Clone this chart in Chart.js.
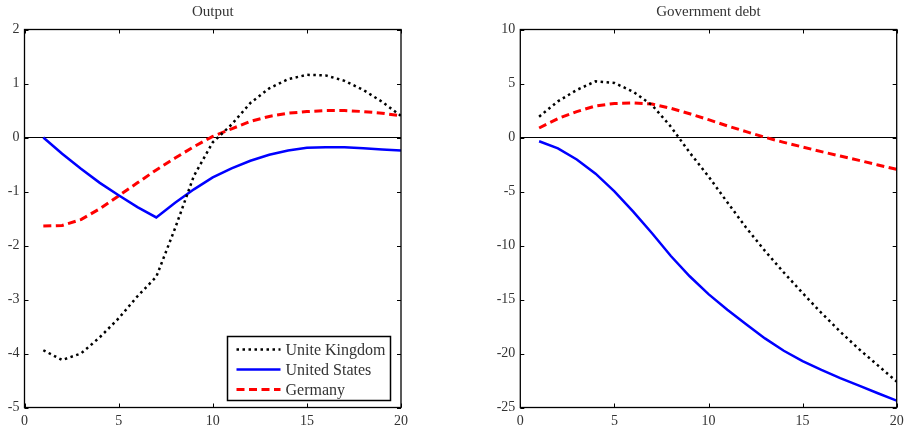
<!DOCTYPE html>
<html>
<head>
<meta charset="utf-8">
<script src="https://cdn.jsdelivr.net/npm/chart.js@4"></script>
<style>
  body { margin: 0; background: #fff; overflow: hidden; }
  .panel { position: absolute; top: 0; width: 452px; height: 432px; }
</style>
</head>
<body>
<div class="panel" style="left:0"><canvas id="outputChart" width="452" height="432"></canvas></div>
<div class="panel" style="left:452px"><canvas id="debtChart" width="452" height="432"></canvas></div>
<script>
const periods = [1, 2, 3, 4, 5, 6, 7, 8, 9, 10, 11, 12, 13, 14, 15, 16, 17, 18, 19, 20];
const seriesNames = ["Unite Kingdom", "United States", "Germany"];

// Output
const outputUK = [-3.94, -4.12, -4.0, -3.7, -3.35, -2.94, -2.58, -1.68, -0.71, -0.09,
  0.24, 0.64, 0.91, 1.08, 1.16, 1.15, 1.05, 0.88, 0.66, 0.4];
const outputUS = [0, -0.3, -0.58, -0.84, -1.07, -1.29, -1.48, -1.21, -0.96, -0.74,
  -0.57, -0.43, -0.32, -0.24, -0.19, -0.18, -0.18, -0.2, -0.22, -0.24];
const outputDE = [-1.64, -1.63, -1.52, -1.32, -1.08, -0.84, -0.6, -0.38, -0.17, 0.02,
  0.16, 0.3, 0.39, 0.45, 0.48, 0.5, 0.5, 0.48, 0.45, 0.4];

// Government debt
const debtUK = [1.93, 3.35, 4.4, 5.2, 5.05, 4.24, 3.0, 1.0, -1.4, -3.6,
  -6.0, -8.35, -10.5, -12.5, -14.4, -16.25, -17.98, -19.6, -21.1, -22.6];
const debtUS = [-0.35, -1.0, -2.03, -3.35, -4.98, -6.87, -8.87, -10.97, -12.85, -14.5,
  -15.95, -17.3, -18.6, -19.75, -20.7, -21.52, -22.28, -22.98, -23.68, -24.37];
const debtDE = [0.88, 1.75, 2.4, 2.92, 3.15, 3.2, 3.1, 2.7, 2.2, 1.65,
  1.08, 0.54, 0.02, -0.45, -0.88, -1.31, -1.72, -2.12, -2.54, -2.95];

Chart.defaults.font.family = "'Liberation Serif', serif";
Chart.defaults.font.size = 14;
Chart.defaults.color = "#333";

const styles = [
  { borderColor: "#000", borderWidth: 2.5, borderDash: [2.5, 3.5] },
  { borderColor: "#0000ff", borderWidth: 2.5, borderDash: [] },
  { borderColor: "#ff0000", borderWidth: 3, borderDash: [8, 4.5] },
];

function makeDatasets(values) {
  return values.map((vals, i) => ({
    label: seriesNames[i],
    data: periods.map((p, j) => ({ x: p, y: vals[j] })),
    borderColor: styles[i].borderColor,
    borderWidth: styles[i].borderWidth,
    borderDash: styles[i].borderDash,
    pointRadius: 0,
    tension: 0,
    fill: false,
  }));
}

// frame, inward ticks and title
const framePlugin = {
  id: "frame",
  afterDatasetsDraw(chart, args, opts) {
    const { ctx, chartArea: a, scales } = chart;
    ctx.save();
    ctx.strokeStyle = "#000";
    ctx.lineWidth = 1;
    ctx.beginPath();
    scales.x.ticks.forEach((t) => {
      const px = Math.round(scales.x.getPixelForValue(t.value)) + 0.5;
      ctx.moveTo(px, a.bottom); ctx.lineTo(px, a.bottom - 4);
      ctx.moveTo(px, a.top); ctx.lineTo(px, a.top + 4);
    });
    scales.y.ticks.forEach((t) => {
      const py = Math.round(scales.y.getPixelForValue(t.value)) + 0.5;
      ctx.moveTo(a.left, py); ctx.lineTo(a.left + 4, py);
      ctx.moveTo(a.right, py); ctx.lineTo(a.right - 4, py);
    });
    ctx.stroke();
    ctx.lineWidth = 1.3;
    ctx.strokeRect(a.left, a.top, a.right - a.left, a.bottom - a.top);
    ctx.fillStyle = "#333";
    ctx.font = "15px 'Liberation Serif', serif";
    ctx.textAlign = "center";
    ctx.textBaseline = "middle";
    ctx.fillText(opts.text, (a.left + a.right) / 2, 12.5);
    ctx.restore();
  },
};

// legend box in the lower right corner of the plot
const boxLegend = {
  id: "boxLegend",
  afterDatasetsDraw(chart, args, opts) {
    if (!opts.show) return;
    const { ctx, chartArea: a } = chart;
    const w = 163, h = 64;
    const x0 = a.right - 10.5 - w, y0 = a.bottom - 7 - h;
    ctx.save();
    ctx.fillStyle = "#fff";
    ctx.fillRect(x0, y0, w, h);
    ctx.strokeStyle = "#000";
    ctx.lineWidth = 1.5;
    ctx.strokeRect(x0, y0, w, h);
    ctx.font = "16px 'Liberation Serif', serif";
    ctx.textBaseline = "middle";
    ctx.textAlign = "left";
    chart.data.datasets.forEach((ds, i) => {
      const y = y0 + 13 + i * 20;
      ctx.beginPath();
      ctx.strokeStyle = ds.borderColor;
      ctx.lineWidth = ds.borderWidth;
      ctx.setLineDash(ds.borderDash);
      ctx.moveTo(x0 + 9, y);
      ctx.lineTo(x0 + 53, y);
      ctx.stroke();
      ctx.setLineDash([]);
      ctx.fillStyle = "#333";
      ctx.fillText(ds.label, x0 + 58, y + 1);
    });
    ctx.restore();
  },
};

function makeChart(canvasId, title, values, yMin, yMax, yStep, yWidth, padRight, legend) {
  return new Chart(document.getElementById(canvasId), {
    type: "line",
    data: { datasets: makeDatasets(values) },
    plugins: [framePlugin, boxLegend],
    options: {
      responsive: false,
      animation: false,
      layout: { padding: { top: 29.5, right: padRight, left: 0, bottom: 0 } },
      plugins: {
        legend: { display: false },
        tooltip: { enabled: false },
        frame: { text: title },
        boxLegend: { show: legend },
      },
      scales: {
        x: {
          type: "linear",
          min: 0,
          max: 20,
          ticks: { stepSize: 5, padding: 5, maxRotation: 0 },
          grid: { display: false, drawTicks: false },
          border: { display: false },
          afterFit: (s) => {
            s.height = 24.5;
            s.paddingLeft = 0;
            s.paddingRight = 0;
          },
        },
        y: {
          min: yMin,
          max: yMax,
          ticks: { stepSize: yStep, padding: 5 },
          grid: {
            drawTicks: false,
            lineWidth: 1,
            color: (c) => (c.tick && c.tick.value === 0 ? "#000" : "rgba(0,0,0,0)"),
          },
          border: { display: false },
          afterFit: (s) => {
            s.width = yWidth;
            s.paddingTop = 0;
            s.paddingBottom = 0;
          },
        },
      },
    },
  });
}

makeChart("outputChart", "Output", [outputUK, outputUS, outputDE], -5, 2, 1, 24.5, 51, true);
makeChart("debtChart", "Government debt", [debtUK, debtUS, debtDE], -25, 10, 5, 68.3, 7.3, false);
</script>
</body>
</html>
